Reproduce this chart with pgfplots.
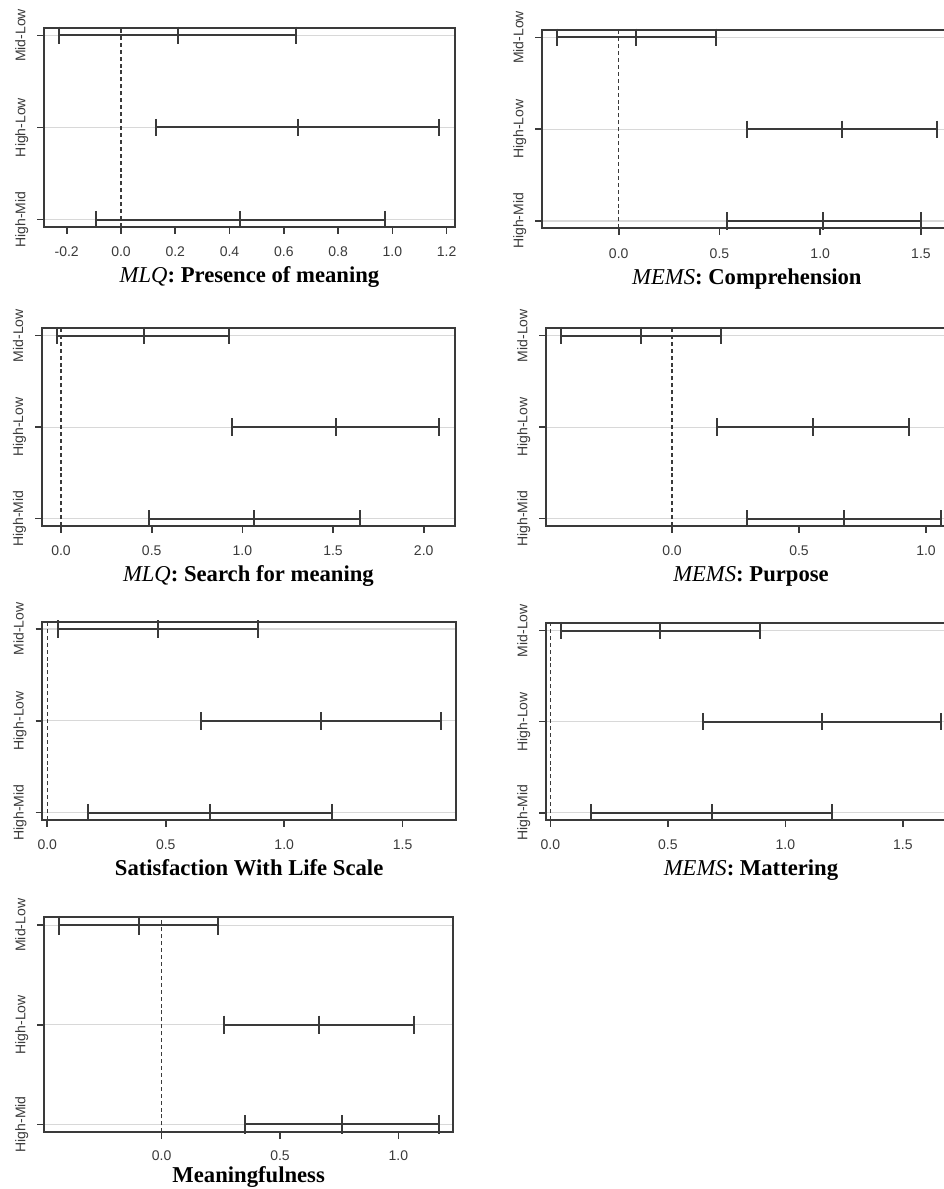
\documentclass[border=0pt]{standalone}
\usepackage{fontspec}
\setmainfont{Liberation Serif}
\newfontfamily\sansf{Liberation Sans}
\usepackage{pgfplots}
\pgfplotsset{compat=1.18}
\definecolor{lc}{HTML}{3A3A3A}
\definecolor{gridc}{HTML}{D8D8D8}
\pgfplotsset{
  tukey/.style={
    scale only axis, anchor=south west,
    ymin=0.92, ymax=3.08,
    ytick={1,2,3}, yticklabels={High-Mid,High-Low,Mid-Low},
    tick pos=left, tick align=outside, major tick length=5pt,
    ymajorgrids, grid style={color=gridc, line width=0.9pt},
    axis line style={color=lc, line width=1.4pt},
    tick style={color=lc, line width=1.2pt},
    xticklabel style={font=\sansf\fontsize{10.5}{12}\selectfont, text=lc, anchor=base, yshift=-17.3pt,
      /pgf/number format/fixed, /pgf/number format/fixed zerofill,
      /pgf/number format/precision=1, /pgf/number format/assume math mode=true},
    yticklabel style={font=\sansf\fontsize{10.5}{12}\selectfont, text=lc, xshift=-8.9pt, rotate=90, anchor=base},
    xlabel style={at={(axis description cs:0.5,0)}, anchor=base, yshift=-41.8pt,
      font=\fontsize{17}{20}\selectfont, text=black},
    clip=false,
  },
  ci/.style={color=lc, line width=1.5pt, mark=|, mark size=6.5pt, mark options={solid, line width=1.5pt}},
  zero/.style={color=lc, line width=0.9pt, dash pattern=on 3pt off 2.2pt},
}
\begin{document}
\begin{tikzpicture}
% Panel 1
\begin{axis}[tukey, at={(33pt,721.5pt)}, width=308.25pt, height=149.25pt,
  xmin=-0.2837, xmax=1.2307, xtick={-0.2,0,0.2,0.4,0.6,0.8,1.0,1.2},
  xlabel={\textit{MLQ}\textbf{: Presence of meaning}}]
\addplot[zero] coordinates {(0,0.92) (0,3.08)};
\addplot[ci] coordinates {(-0.227,3) (0.211,3) (0.644,3)};
\addplot[ci] coordinates {(0.129,2) (0.651,2) (1.173,2)};
\addplot[ci] coordinates {(-0.091,1) (0.438,1) (0.973,1)};
\end{axis}
% Panel 2
\begin{axis}[tukey, at={(406.5pt,720.5pt)}, width=307.35pt, height=148.7pt,
  xmin=-0.3806, xmax=1.653, xtick={0,0.5,1.0,1.5},
  xlabel={\textit{MEMS}\textbf{: Comprehension}}]
\addplot[zero] coordinates {(0,0.92) (0,3.08)};
\addplot[ci] coordinates {(-0.305,3) (0.086,3) (0.483,3)};
\addplot[ci] coordinates {(0.635,2) (1.107,2) (1.578,2)};
\addplot[ci] coordinates {(0.536,1) (1.015,1) (1.499,1)};
\end{axis}
% Panel 3
\begin{axis}[tukey, at={(31.3pt,497.25pt)}, width=310pt, height=148.3pt,
  xmin=-0.1065, xmax=2.173, xtick={0,0.5,1.0,1.5,2.0},
  xlabel={\textit{MLQ}\textbf{: Search for meaning}}]
\addplot[zero] coordinates {(0,0.92) (0,3.08)};
\addplot[ci] coordinates {(-0.020,3) (0.456,3) (0.928,3)};
\addplot[ci] coordinates {(0.943,2) (1.517,2) (2.087,2)};
\addplot[ci] coordinates {(0.485,1) (1.065,1) (1.646,1)};
\end{axis}
% Panel 4
\begin{axis}[tukey, at={(409.5pt,497.25pt)}, width=307.5pt, height=148.3pt,
  xmin=-0.496, xmax=1.118, xtick={0,0.5,1.0},
  xlabel={\textit{MEMS}\textbf{: Purpose}}]
\addplot[zero] coordinates {(0,0.92) (0,3.08)};
\addplot[ci] coordinates {(-0.437,3) (-0.121,3) (0.192,3)};
\addplot[ci] coordinates {(0.177,2) (0.554,2) (0.934,2)};
\addplot[ci] coordinates {(0.294,1) (0.676,1) (1.058,1)};
\end{axis}
% Panel 5
\begin{axis}[tukey, at={(31.7pt,276.75pt)}, width=310.3pt, height=148.7pt,
  xmin=-0.0211, xmax=1.725, xtick={0,0.5,1.0,1.5},
  xlabel={\textbf{Satisfaction With Life Scale}}]
\addplot[zero] coordinates {(0,0.92) (0,3.08)};
\addplot[ci] coordinates {(0.046,3) (0.466,3) (0.891,3)};
\addplot[ci] coordinates {(0.648,2) (1.155,2) (1.661,2)};
\addplot[ci] coordinates {(0.173,1) (0.688,1) (1.201,1)};
\end{axis}
% Panel 6
\begin{axis}[tukey, at={(409.5pt,276.75pt)}, width=307.5pt, height=147.5pt,
  xmin=-0.0183, xmax=1.726, xtick={0,0.5,1.0,1.5},
  xlabel={\textit{MEMS}\textbf{: Mattering}}]
\addplot[zero] coordinates {(0,0.92) (0,3.08)};
\addplot[ci] coordinates {(0.0455,3) (0.467,3) (0.891,3)};
\addplot[ci] coordinates {(0.649,2) (1.156,2) (1.663,2)};
\addplot[ci] coordinates {(0.173,1) (0.690,1) (1.200,1)};
\end{axis}
% Panel 7
\begin{axis}[tukey, at={(33pt,42.5pt)}, width=307pt, height=161.25pt,
  xmin=-0.497, xmax=1.232, xtick={0,0.5,1.0},
  xticklabel style={yshift=1pt},
  xlabel style={yshift=4.3pt},
  ci/.append style={mark size=7pt},
  xlabel={\textbf{Meaningfulness}}]
\addplot[zero] coordinates {(0,0.92) (0,3.08)};
\addplot[ci] coordinates {(-0.433,3) (-0.097,3) (0.239,3)};
\addplot[ci] coordinates {(0.262,2) (0.666,2) (1.067,2)};
\addplot[ci] coordinates {(0.352,1) (0.762,1) (1.170,1)};
\end{axis}
\pgfresetboundingbox
\useasboundingbox (0,0) rectangle (708pt,891.75pt);
\end{tikzpicture}
\end{document}
